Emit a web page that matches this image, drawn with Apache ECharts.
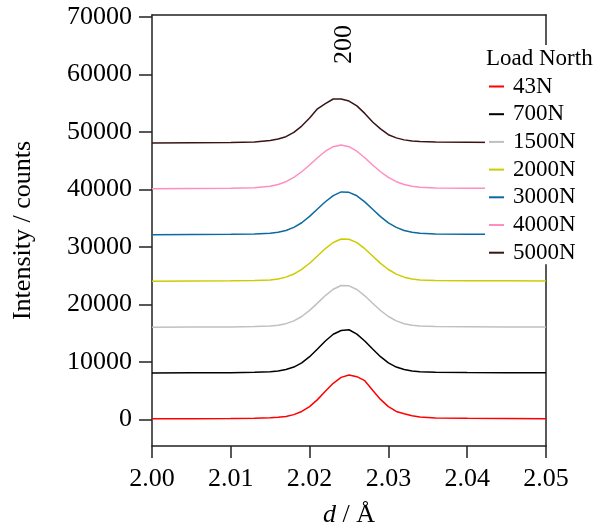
<!DOCTYPE html>
<html>
<head>
<meta charset="utf-8">
<script src="https://cdn.jsdelivr.net/npm/echarts@6/dist/echarts.min.js"></script>
<style>
  html, body { margin: 0; padding: 0; background: #fff; }
  #main { width: 598px; height: 532px; }
</style>
</head>
<body>
<div id="main"></div>
<script>
  // d spacing (Å)
  const dValues = [2.000, 2.005, 2.010, 2.013,
    2.015, 2.016, 2.017, 2.018, 2.019, 2.020, 2.021, 2.022, 2.023, 2.024,
    2.025, 2.026, 2.027, 2.028, 2.029, 2.030, 2.031, 2.032, 2.033, 2.034,
    2.036, 2.040, 2.045, 2.050]

  const loads = ['43N', '700N', '1500N', '2000N', '3000N', '4000N', '5000N']
  const colors = ['#ff0000', '#000000', '#c0c0c0', '#cccc00', '#0a6aa1', '#ff8ec0', '#3a1414']

  // intensity, each pattern already offset by 8000 counts
  const i43N = [120, 150, 190, 230,
    300, 380, 520, 850, 1400, 2240, 3460, 4900, 6290, 7320,
    7750, 7450, 6750, 5100, 3500, 2250, 1400, 1000, 650, 450,
    280, 210, 170, 150]
  const i700N = [8100, 8120, 8150, 8200,
    8300, 8420, 8680, 9120, 9850, 10920, 12250, 13640, 14825, 15480,
    15600, 14850, 13640, 12250, 10920, 9850, 9120, 8680, 8420, 8300,
    8220, 8170, 8150, 8150]
  const i1500N = [16050, 16080, 16100, 16150,
    16250, 16380, 16660, 17150, 17905, 18965, 20230, 21545, 22640, 23300,
    23230, 22600, 21500, 20200, 18950, 17900, 17150, 16650, 16380, 16250,
    16170, 16130, 16100, 16100]
  const i2000N = [24050, 24080, 24100, 24150,
    24250, 24420, 24750, 25280, 26090, 27160, 28430, 29710, 30770, 31370,
    31330, 30740, 29690, 28410, 27140, 26070, 25270, 24740, 24420, 24250,
    24160, 24110, 24100, 24080]
  const i3000N = [32100, 32150, 32200, 32260,
    32360, 32540, 32850, 33400, 34200, 35300, 36580, 37850, 38920, 39560,
    39480, 38880, 37820, 36540, 35260, 34180, 33390, 32850, 32530, 32360,
    32260, 32220, 32200, 32200]
  const i4000N = [40100, 40150, 40200, 40270,
    40530, 40835, 41330, 42070, 43060, 44240, 45500, 46630, 47420, 47700,
    47420, 46630, 45500, 44240, 43060, 42070, 41330, 40840, 40530, 40360,
    40250, 40200, 40180, 40170]
  const i5000N = [48050, 48100, 48150, 48250,
    48500, 48750, 49150, 49900, 51000, 52400, 54000, 54900, 55700, 55700,
    55350, 54500, 53200, 51700, 50500, 49500, 48950, 48600, 48400, 48300,
    48220, 48180, 48150, 48150]

  const intensities = [i43N, i700N, i1500N, i2000N, i3000N, i4000N, i5000N]
  const yTicks = [0, 10000, 20000, 30000, 40000, 50000, 60000, 70000]
  const xTicks = [2.00, 2.01, 2.02, 2.03, 2.04, 2.05]

  const FONT = 'Liberation Serif'
  const AXIS_COLOR = '#222'

  let series = loads.map(function (name, k) {
    return {
      name: name,
      type: 'line',
      symbol: 'none',
      color: colors[k],
      lineStyle: { width: 1.5, color: colors[k] },
      data: dValues.map(function (d, i) { return [d, intensities[k][i]] })
    }
  })

  let chart = echarts.init(document.getElementById('main'))
  chart.setOption({
    animation: false,
    backgroundColor: '#fff',
    grid: {
      left: 152,
      right: 52,
      top: 15,
      bottom: 86,
      outerBoundsMode: 'none'
    },
    legend: {
      orient: 'vertical',
      left: 485,
      top: 45,
      padding: [30, 20, 0, 4],
      backgroundColor: '#fff',
      icon: 'rect',
      itemWidth: 15,
      itemHeight: 2,
      itemGap: 4.7,
      data: loads,
      textStyle: {
        fontFamily: FONT,
        fontSize: 23,
        lineHeight: 22,
        color: '#000',
        padding: [0, 0, 0, 4]
      }
    },
    graphic: [{
      type: 'text',
      left: 486,
      top: 47,
      z: 100,
      style: { text: 'Load North', font: '23px "Liberation Serif"', fill: '#000' }
    }, {
      // peak label
      type: 'text',
      x: 331,
      y: 64,
      rotation: Math.PI / 2,
      z: 100,
      style: { text: '200', font: '26px "Liberation Serif"', fill: '#000' }
    }],
    xAxis: [{
      type: 'value',
      min: 2.00,
      max: 2.05,
      name: '{i|d} / Å',
      nameLocation: 'middle',
      nameGap: 56,
      nameTextStyle: {
        fontFamily: FONT,
        fontSize: 26,
        color: '#000',
        rich: { i: { fontFamily: FONT, fontSize: 26, fontStyle: 'italic', color: '#000' } }
      },
      axisLine: { onZero: false, lineStyle: { color: AXIS_COLOR, width: 1.5 } },
      axisTick: { inside: false, length: 12, customValues: xTicks, lineStyle: { color: AXIS_COLOR, width: 1.5 } },
      axisLabel: {
        customValues: xTicks,
        margin: 20,
        fontFamily: FONT,
        fontSize: 26,
        color: '#000',
        formatter: function (v) { return v.toFixed(2) }
      },
      splitLine: { show: false }
    }, {
      type: 'value',
      position: 'top',
      min: 2.00,
      max: 2.05,
      axisLine: { show: true, onZero: false, lineStyle: { color: AXIS_COLOR, width: 1.5 } },
      axisTick: { show: false },
      axisLabel: { show: false },
      splitLine: { show: false }
    }],
    yAxis: [{
      type: 'value',
      min: -4600,
      max: 70300,
      name: 'Intensity / counts',
      nameLocation: 'middle',
      nameGap: 116,
      nameTextStyle: { fontFamily: FONT, fontSize: 26, color: '#000' },
      axisLine: { show: true, onZero: false, lineStyle: { color: AXIS_COLOR, width: 1.5 } },
      axisTick: { show: true, length: 13, customValues: yTicks, lineStyle: { color: AXIS_COLOR, width: 1.5 } },
      axisLabel: {
        customValues: yTicks,
        margin: 20,
        fontFamily: FONT,
        fontSize: 26,
        color: '#000',
        formatter: function (v) { return String(v) }
      },
      splitLine: { show: false }
    }, {
      type: 'value',
      position: 'right',
      min: -4600,
      max: 70300,
      axisLine: { show: true, onZero: false, lineStyle: { color: AXIS_COLOR, width: 1.5 } },
      axisTick: { show: false },
      axisLabel: { show: false },
      splitLine: { show: false }
    }],
    series: series
  })
</script>
</body>
</html>
